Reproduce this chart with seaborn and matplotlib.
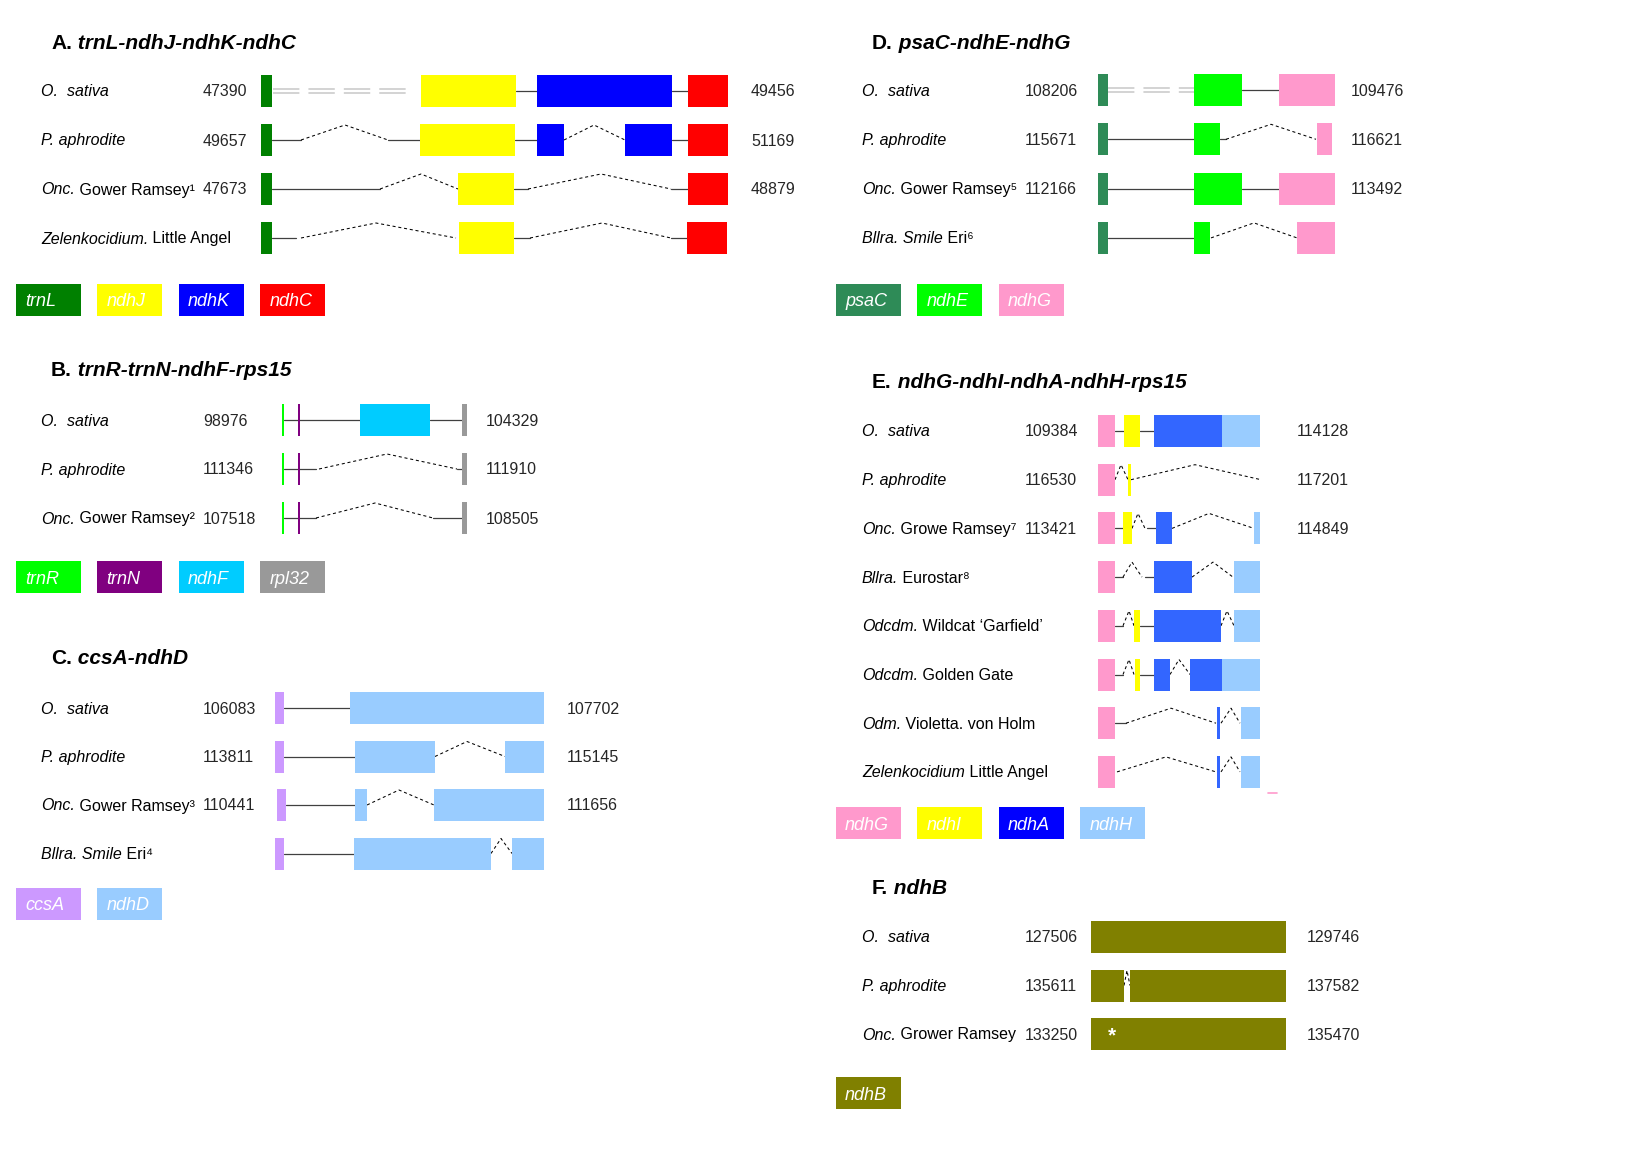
import matplotlib
matplotlib.use("Agg")
import matplotlib.pyplot as plt
import seaborn as sns

sns.set_theme(style="white")
plt.rcParams['font.family'] = ['Liberation Sans', 'DejaVu Sans']
plt.rcParams['lines.scale_dashes'] = False

# gene colours
gene_colors = {
    'trnL': '#008000', 'ndhJ': '#ffff00', 'ndhK': '#0000ff', 'ndhC': '#ff0000',
    'trnR': '#00ff00', 'trnN': '#800080', 'ndhF': '#00ccff', 'rpl32': '#999999',
    'ccsA': '#cc99ff', 'ndhD': '#99ccff',
    'psaC': '#2e8b57', 'ndhE': '#00ff00', 'ndhG': '#ff99cc',
    'ndhI': '#ffff00', 'ndhA': '#3366ff', 'ndhH': '#99ccff',
    'ndhB': '#808000',
}
legend_colors = dict(gene_colors, ndhA='#0000ff')

# ---------------- A. trnL-ndhJ-ndhK-ndhC ----------------
A_species = [[("O.  sativa", "i")], [("P. aphrodite", "i")],
             [("Onc.", "i"), (" Gower Ramsey\u00b9", "")],
             [("Zelenkocidium.", "i"), (" Little Angel", "")]]
A_left = ["47390", "49657", "47673", None]
A_right = ["49456", "51169", "48879", None]
A_exons = [
    [(261, 272, "trnL"), (421, 516, "ndhJ"), (537, 672, "ndhK"), (688, 728, "ndhC")],
    [(261, 272, "trnL"), (420, 515, "ndhJ"), (537, 564, "ndhK"), (625, 672, "ndhK"), (688, 728, "ndhC")],
    [(261, 272, "trnL"), (458, 514, "ndhJ"), (688, 728, "ndhC")],
    [(261, 272, "trnL"), (459, 514, "ndhJ"), (687, 727, "ndhC")],
]
A_introns = [[(516, 537), (672, 688)],
             [(272, 301), (388, 420), (515, 537), (672, 688)],
             [(272, 380), (514, 528), (671, 688)],
             [(272, 296), (514, 530), (671, 687)]]
A_splices = [[], [(301, 345, 388), (564, 594, 625)],
             [(380, 421, 458), (528, 601, 671)],
             [(301, 376, 456), (530, 602, 671)]]
A_gaps = [[(273, 413)], [], [], []]
A_legend = ["trnL", "ndhJ", "ndhK", "ndhC"]

# ---------------- B. trnR-trnN-ndhF-rps15 ----------------
B_species = [[("O.  sativa", "i")], [("P. aphrodite", "i")],
             [("Onc.", "i"), (" Gower Ramsey\u00b2", "")]]
B_left = ["98976", "111346", "107518"]
B_right = ["104329", "111910", "108505"]
B_exons = [
    [(282, 284.5, "trnR"), (298, 300.5, "trnN"), (360, 430, "ndhF"), (462, 467, "rpl32")],
    [(282, 284.5, "trnR"), (298, 300.5, "trnN"), (462, 467, "rpl32")],
    [(282, 284.5, "trnR"), (298, 300.5, "trnN"), (462, 467, "rpl32")],
]
B_introns = [[(284, 360), (430, 462)],
             [(284, 316), (457, 462)],
             [(284, 316), (433, 462)]]
B_splices = [[], [(319, 387, 457)], [(316, 375, 433)]]
B_gaps = [[], [], []]
B_legend = ["trnR", "trnN", "ndhF", "rpl32"]

# ---------------- C. ccsA-ndhD ----------------
C_species = [[("O.  sativa", "i")], [("P. aphrodite", "i")],
             [("Onc.", "i"), (" Gower Ramsey\u00b3", "")],
             [("Bllra. Smile", "i"), (" Eri\u2074", "")]]
C_left = ["106083", "113811", "110441", None]
C_right = ["107702", "115145", "111656", None]
C_exons = [
    [(275, 284, "ccsA"), (350, 544, "ndhD")],
    [(275, 284, "ccsA"), (355, 435, "ndhD"), (505, 544, "ndhD")],
    [(277, 286, "ccsA"), (355, 367, "ndhD"), (434, 544, "ndhD")],
    [(275, 284, "ccsA"), (354, 491, "ndhD"), (512, 544, "ndhD")],
]
C_introns = [[(284, 350)], [(284, 355)], [(286, 355)], [(284, 354)]]
C_splices = [[], [(435, 467, 505)], [(367, 399, 434)], [(491, 501, 512)]]
C_gaps = [[], [], [], []]
C_legend = ["ccsA", "ndhD"]

# ---------------- D. psaC-ndhE-ndhG ----------------
D_species = [[("O.  sativa", "i")], [("P. aphrodite", "i")],
             [("Onc.", "i"), (" Gower Ramsey\u2075", "")],
             [("Bllra. Smile", "i"), (" Eri\u2076", "")]]
D_left = ["108206", "115671", "112166", None]
D_right = ["109476", "116621", "113492", None]
D_exons = [
    [(278, 288, "psaC"), (374, 422, "ndhE"), (459, 515, "ndhG")],
    [(278, 288, "psaC"), (374, 400, "ndhE"), (497, 512, "ndhG")],
    [(278, 288, "psaC"), (374, 422, "ndhE"), (459, 515, "ndhG")],
    [(278, 288, "psaC"), (374, 390, "ndhE"), (477, 515, "ndhG")],
]
D_introns = [[(422, 459)], [(288, 374), (400, 406)], [(288, 374), (422, 459)], [(288, 374)]]
D_splices = [[], [(406, 451, 496)], [], [(391, 434, 477)]]
D_gaps = [[(288, 374)], [], [], []]
D_legend = ["psaC", "ndhE", "ndhG"]

# ---------------- E. ndhG-ndhI-ndhA-ndhH-rps15 ----------------
E_species = [[("O.  sativa", "i")], [("P. aphrodite", "i")],
             [("Onc.", "i"), (" Growe Ramsey\u2077", "")],
             [("Bllra.", "i"), (" Eurostar\u2078", "")],
             [("Odcdm.", "i"), (" Wildcat \u2018Garfield\u2019", "")],
             [("Odcdm.", "i"), (" Golden Gate", "")],
             [("Odm.", "i"), (" Violetta. von Holm", "")],
             [("Zelenkocidium", "i"), (" Little Angel", "")]]
E_left = ["109384", "116530", "113421", None, None, None, None, None]
E_right = ["114128", "117201", "114849", None, None, None, None, None]
E_exons = [
    [(278, 295, "ndhG"), (304, 320, "ndhI"), (334, 402, "ndhA"), (402, 440, "ndhH")],
    [(278, 295, "ndhG"), (308, 311, "ndhI")],
    [(278, 295, "ndhG"), (303, 312, "ndhI"), (336, 352, "ndhA"), (434, 440, "ndhH")],
    [(278, 295, "ndhG"), (334, 372, "ndhA"), (414, 440, "ndhH")],
    [(278, 295, "ndhG"), (314, 320, "ndhI"), (334, 401, "ndhA"), (414, 440, "ndhH")],
    [(278, 295, "ndhG"), (315, 320, "ndhI"), (334, 350, "ndhA"), (370, 402, "ndhA"), (402, 440, "ndhH")],
    [(278, 295, "ndhG"), (397, 400, "ndhA"), (421, 440, "ndhH")],
    [(278, 295, "ndhG"), (397, 400, "ndhA"), (421, 440, "ndhH")],
]
E_introns = [[(295, 304), (320, 334)],
             [],
             [(295, 303), (327, 336)],
             [(295, 303), (325, 334)],
             [(295, 303), (320, 334)],
             [(295, 303), (320, 334)],
             [(295, 306)],
             []]
E_splices = [[],
             [(295, 301, 308), (311, 375, 441)],
             [(312, 318, 325), (352, 389, 434)],
             [(303, 312, 322), (372, 393, 413)],
             [(303, 309, 314), (401, 407, 414)],
             [(303, 309, 314), (350, 359, 370)],
             [(306, 351, 396), (401, 411, 420)],
             [(297, 346, 396), (401, 411, 420)]]
E_gaps = [[] for _ in range(8)]
E_legend = ["ndhG", "ndhI", "ndhA", "ndhH"]

# ---------------- F. ndhB ----------------
F_species = [[("O.  sativa", "i")], [("P. aphrodite", "i")],
             [("Onc.", "i"), (" Grower Ramsey", "")]]
F_left = ["127506", "135611", "133250"]
F_right = ["129746", "137582", "135470"]
F_exons = [
    [(271, 466, "ndhB")],
    [(271, 304, "ndhB"), (310, 466, "ndhB")],
    [(271, 466, "ndhB")],
]
F_introns = [[], [], []]
F_splices = [[], [(304, 307, 310)], []]
F_gaps = [[], [], []]
F_legend = ["ndhB"]
F_stars = [None, None, 292]

panels = [
    dict(letter="A", region="trnL-ndhJ-ndhK-ndhC", species=A_species, left=A_left, right=A_right,
         exons=A_exons, introns=A_introns, splices=A_splices, gaps=A_gaps, legend=A_legend),
    dict(letter="B", region="trnR-trnN-ndhF-rps15", species=B_species, left=B_left, right=B_right,
         exons=B_exons, introns=B_introns, splices=B_splices, gaps=B_gaps, legend=B_legend),
    dict(letter="C", region="ccsA-ndhD", species=C_species, left=C_left, right=C_right,
         exons=C_exons, introns=C_introns, splices=C_splices, gaps=C_gaps, legend=C_legend),
    dict(letter="D", region="psaC-ndhE-ndhG", species=D_species, left=D_left, right=D_right,
         exons=D_exons, introns=D_introns, splices=D_splices, gaps=D_gaps, legend=D_legend),
    dict(letter="E", region="ndhG-ndhI-ndhA-ndhH-rps15", species=E_species, left=E_left, right=E_right,
         exons=E_exons, introns=E_introns, splices=E_splices, gaps=E_gaps, legend=E_legend),
    dict(letter="F", region="ndhB", species=F_species, left=F_left, right=F_right,
         exons=F_exons, introns=F_introns, splices=F_splices, gaps=F_gaps, legend=F_legend),
]

# panel placement on the page (pixels)
layouts = [
    dict(ox=0, title_x=51, title_y=42, row0=91, pitch=49, label_x=41, left_x=203, right_x=751, legend_top=284),
    dict(ox=0, title_x=51, title_y=369, row0=420, pitch=49, label_x=41, left_x=203, right_x=486, legend_top=561),
    dict(ox=0, title_x=51, title_y=657, row0=708, pitch=48.5, label_x=41, left_x=203, right_x=567, legend_top=888),
    dict(ox=820, title_x=52, title_y=42, row0=90, pitch=49.3, label_x=42, left_x=205, right_x=531, legend_top=284),
    dict(ox=820, title_x=52, title_y=381, row0=431, pitch=48.7, label_x=42, left_x=205, right_x=477, legend_top=807),
    dict(ox=820, title_x=52, title_y=887, row0=937, pitch=48.5, label_x=42, left_x=205, right_x=487, legend_top=1077),
]

W, H = 1648, 1153
fig = plt.figure(figsize=(W / 100, H / 100), dpi=100)
ax = fig.add_axes([0, 0, 1, 1])
ax.set_xlim(0, W)
ax.set_ylim(H, 0)
ax.axis('off')
fig.canvas.draw()
renderer = fig.canvas.get_renderer()


def put_runs(x, y, parts, size):
    for text, style in parts:
        t = ax.text(x, y, text, fontsize=size, va='baseline', ha='left', color='black',
                    fontstyle='italic' if 'i' in style else 'normal',
                    fontweight='bold' if 'b' in style else 'normal')
        x += t.get_window_extent(renderer).width


EXON_H = 32
for p, lay in zip(panels, layouts):
    ox = lay['ox']
    put_runs(ox + lay['title_x'], lay['title_y'] + 7,
             [(p['letter'] + ".", "b"), (" " + p['region'], "bi")], 15)
    for i, sp in enumerate(p['species']):
        y = lay['row0'] + i * lay['pitch']
        put_runs(ox + lay['label_x'], y + 5.5, sp, 11.5)
        if p['left'][i]:
            ax.text(ox + lay['left_x'], y + 5.5, p['left'][i], fontsize=11.5, va='baseline')
        if p['right'][i]:
            ax.text(ox + lay['right_x'], y + 5.5, p['right'][i], fontsize=11.5, va='baseline')
        for s, e in p['introns'][i]:
            ax.plot([ox + s, ox + e], [y, y], color='#404040', lw=0.9, zorder=1)
        for s, m, e in p['splices'][i]:
            ax.plot([ox + s, ox + m, ox + e], [y, y - 15, y], color='black', lw=0.75,
                    dashes=(2.2, 2.0), zorder=1)
        for s, e in p['gaps'][i]:
            for dy in (-1.8, 1.8):
                ax.plot([ox + s, ox + e], [y + dy, y + dy], color='#c8c8c8', lw=1.1,
                        dashes=(19, 6.5), zorder=1)
        for s, e, g in p['exons'][i]:
            ax.barh(y, e - s, left=ox + s, height=EXON_H, color=gene_colors[g], lw=0, zorder=2)
    for k, g in enumerate(p['legend']):
        x0 = ox + 16 + k * 81.5
        yc = lay['legend_top'] + EXON_H / 2
        ax.barh(yc, 65, left=x0, height=EXON_H, color=legend_colors[g], lw=0, zorder=2)
        ax.text(x0 + 9, yc + 6.5, g, color='white', fontstyle='italic', fontsize=13,
                va='baseline', zorder=3)

# asterisk on Onc. ndhB
layF = layouts[5]
for i, sx in enumerate(F_stars):
    if sx is not None:
        ax.text(layF['ox'] + sx, layF['row0'] + i * layF['pitch'] + 2, "*", color='white',
                fontsize=15, fontweight='bold', ha='center', va='center', zorder=3)

# small pink stroke under the last E row
layE = layouts[4]
ax.plot([layE['ox'] + 448, layE['ox'] + 457], [793, 793], color=gene_colors['ndhG'], lw=1.2)

fig.savefig("out.png", dpi=100)
